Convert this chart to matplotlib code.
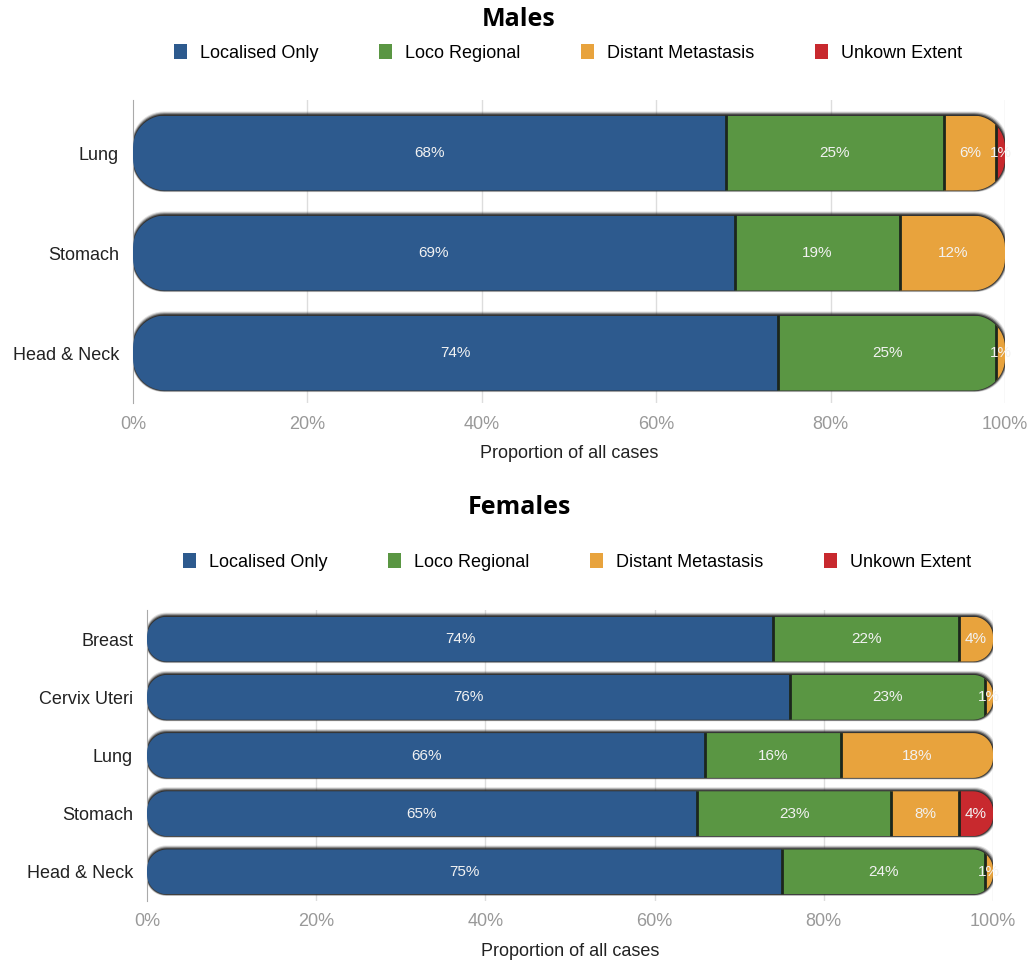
import matplotlib
matplotlib.use("Agg")
import matplotlib.pyplot as plt
import numpy as np
from matplotlib.patches import PathPatch, Rectangle, Patch
from matplotlib.path import Path

plt.rcParams["font.family"] = ["Liberation Sans", "DejaVu Sans"]

# ---- data ----
stages = ["Localised Only", "Loco Regional", "Distant Metastasis", "Unkown Extent"]
colors = ["#2d5a8e", "#5a9643", "#e8a33d", "#c8292e"]

male_sites = ["Lung", "Stomach", "Head & Neck"]
male_local = [68, 69, 74]
male_loco = [25, 19, 25]
male_distant = [6, 12, 1]
male_unknown = [1, 0, 0]

female_sites = ["Breast", "Cervix Uteri", "Lung", "Stomach", "Head & Neck"]
female_local = [74, 76, 66, 65, 75]
female_loco = [22, 23, 16, 23, 24]
female_distant = [4, 1, 18, 8, 1]
female_unknown = [0, 0, 0, 4, 0]

FW, FH = 1032, 964
fig = plt.figure(figsize=(FW / 100, FH / 100), dpi=100)


def px_axes(left, top, right, bottom):
    return fig.add_axes([left / FW, 1 - bottom / FH, (right - left) / FW, (bottom - top) / FH])


def rounded(x0, y0, w, h, rx, ry, **kw):
    """rounded rectangle with elliptic corners (rx, ry in data units)"""
    t = np.linspace(0, np.pi / 2, 14)
    x1, y1 = x0 + w, y0 + h
    pts = []
    for cx, cy, a0 in [(x1 - rx, y1 - ry, 0), (x0 + rx, y1 - ry, np.pi / 2),
                       (x0 + rx, y0 + ry, np.pi), (x1 - rx, y0 + ry, 1.5 * np.pi)]:
        a = a0 + t
        pts += list(zip(cx + rx * np.cos(a), cy + ry * np.sin(a)))
    pts.append(pts[0])
    return PathPatch(Path(pts, closed=True), **kw)


def panel(ax, box, sites, series, barh, radius_px, ylim):
    left, top, right, bottom = box
    wpx, hpx = right - left, bottom - top
    ax.set_xlim(0, 100)
    ax.set_ylim(*ylim)
    yr = abs(ylim[0] - ylim[1])
    dx = 100 / wpx                 # one pixel in x units
    dy = yr / hpx                  # one pixel in y units
    rx, ry = radius_px * dx, min(radius_px * dy, barh / 2)

    for i, site in enumerate(sites):
        vals = [s[i] for s in series]
        total = sum(vals)
        y0 = i - barh / 2
        # soft dark shadow, mostly on top and right
        for k, a in [(4, 0.15), (3, 0.3), (2, 0.55), (1, 0.85)]:
            ax.add_patch(rounded(-0.3 * k * dx, y0 - k * dy, total + 0.9 * k * dx,
                                 barh + 1.4 * k * dy, rx, ry, fc="#2a2a2a", ec="none",
                                 alpha=a, zorder=2))
        clip = rounded(0, y0, total, barh, rx, ry, fc="none", ec="none", zorder=3)
        ax.add_patch(clip)
        x = 0
        for v, c in zip(vals, colors):
            if v <= 0:
                continue
            rect = Rectangle((x, y0), v, barh, fc=c, ec="none", zorder=3)
            ax.add_patch(rect)
            rect.set_clip_path(clip)
            if x > 0:
                ln, = ax.plot([x, x], [y0, y0 + barh], color="#1c261c", lw=2, zorder=4)
                ln.set_clip_path(clip)
            t = ax.text(x + v / 2, i, f"{v}%", ha="center", va="center",
                        color="#f2f2f2", fontsize=11, zorder=5)
            t.set_clip_path(clip)
            x += v

    ax.set_yticks(range(len(sites)))
    ax.set_yticklabels(sites, fontsize=13, color="#222222")
    ax.set_xticks([0, 20, 40, 60, 80, 100])
    ax.set_xticklabels([f"{t}%" for t in [0, 20, 40, 60, 80, 100]], fontsize=13, color="#999999")
    ax.tick_params(length=0, pad=10)
    ax.tick_params(axis="x", pad=9)
    for s in ["top", "right", "bottom"]:
        ax.spines[s].set_visible(False)
    ax.spines["left"].set_color("#aaaaaa")
    for g in [20, 40, 60, 80, 100]:
        ax.axvline(g, color="#dddddd", lw=1, zorder=1)
    ax.set_xlabel("Proportion of all cases", fontsize=13, color="#222222", labelpad=9)


def legend(ycenter_px, xcenter_px):
    handles = [Patch(fc=c, ec="none") for c in colors]
    fig.legend(handles, stages, loc="center", ncol=4, frameon=False,
               bbox_to_anchor=(xcenter_px / FW, 1 - ycenter_px / FH),
               fontsize=13, handlelength=0.7, handleheight=0.85,
               handletextpad=0.7, columnspacing=3.4)


# males
mbox = (133, 100, 1005, 403)
ax1 = px_axes(*mbox)
panel(ax1, mbox, male_sites, [male_local, male_loco, male_distant, male_unknown],
      0.75, 32, (2.5, -0.53))
fig.text(519 / FW, 1 - 19 / FH, "Males", ha="center", va="center",
         fontsize=18, fontweight="bold", family="Open Sans")
legend(53, 568)

# females
fbox = (147, 610, 993, 901)
ax2 = px_axes(*fbox)
panel(ax2, fbox, female_sites, [female_local, female_loco, female_distant, female_unknown],
      0.77, 20, (4.5, -0.5))
fig.text(519 / FW, 1 - 507 / FH, "Females", ha="center", va="center",
         fontsize=18, fontweight="bold", family="Open Sans")
legend(562, 577)

fig.savefig("out.png", dpi=100)
